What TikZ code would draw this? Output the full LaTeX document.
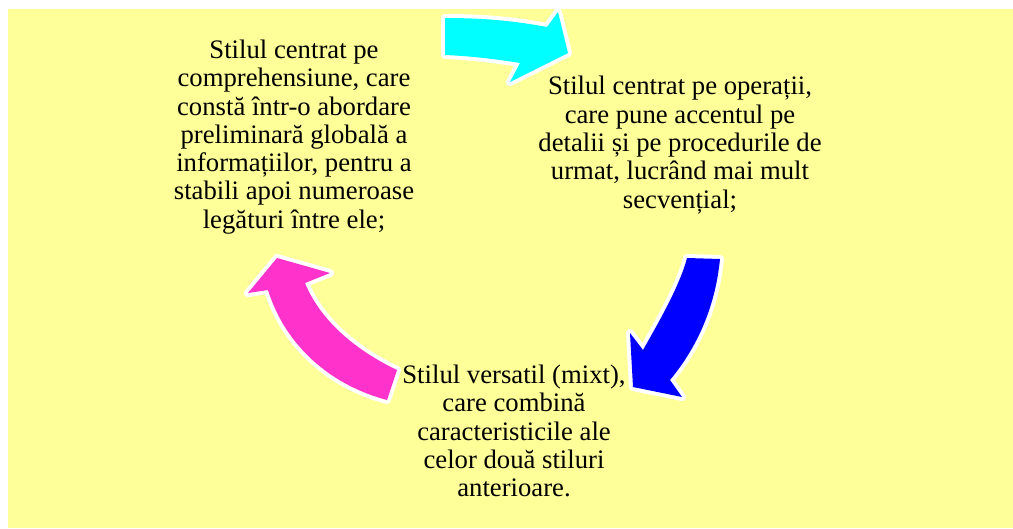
\documentclass[tikz,border=0pt]{standalone}
\usepackage{fontspec}
\setmainfont{Liberation Serif}
\definecolor{bgyellow}{HTML}{FFFF99}
\definecolor{arrcyan}{HTML}{00FFFF}
\definecolor{arrblue}{HTML}{0000FF}
\definecolor{arrmag}{HTML}{FF33CC}
\begin{document}
\begin{tikzpicture}[x=1pt,y=-1pt,
  txt/.style={align=center, inner sep=0pt, font=\fontsize{26.7}{28.3}\selectfont},
  cyclearrow/.style={preaction={draw=white, line width=8pt, line join=round}}]
\useasboundingbox (0,0) rectangle (1013,528);
\fill[bgyellow] (8,9) rectangle (1013,528);
% cyan arrow (top)
\path[cyclearrow, fill=arrcyan] (445,18) .. controls (490,18) and (520,22) .. (547,27) -- (558,12) -- (568,53) -- (510,82) -- (520,63) .. controls (495,59) and (470,56) .. (445,55) -- cycle;
% blue arrow (right)
\path[cyclearrow, fill=arrblue] (687,258) -- (720,259) .. controls (715,310) and (695,350) .. (670,380) -- (682,397) -- (633,387) -- (630,333) -- (643,350) .. controls (660,320) and (680,285) .. (687,258) -- cycle;
% magenta arrow (left)
\path[cyclearrow, fill=arrmag] (397,370) -- (387,400) .. controls (330,385) and (285,345) .. (268,290) -- (248,293) -- (277,258) -- (330,273) -- (305,283) .. controls (320,320) and (355,350) .. (397,370) -- cycle;
\node[txt] (comp) at (294,137) {Stilul centrat pe\\comprehensiune, care\\constă într-o abordare\\preliminară globală a\\informațiilor, pentru a\\stabili apoi numeroase\\legături între ele;};
\node[txt] (oper) at (680,145) {Stilul centrat pe operații,\\care pune accentul pe\\detalii și pe procedurile de\\urmat, lucrând mai mult\\secvențial;};
\node[txt] (vers) at (514,431) {Stilul versatil (mixt),\\care combină\\caracteristicile ale\\celor două stiluri\\anterioare.};
\end{tikzpicture}
\end{document}
